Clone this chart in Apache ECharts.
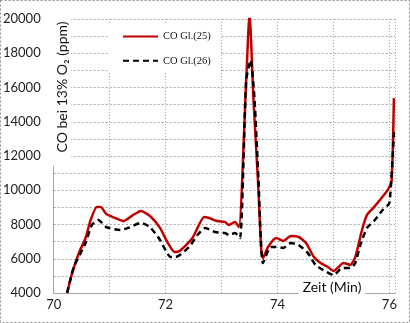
<!DOCTYPE html>
<html>
<head>
<meta charset="utf-8">
<script src="https://cdn.jsdelivr.net/npm/echarts@6/dist/echarts.min.js"></script>
<style>
  html, body { margin: 0; padding: 0; background: #fff; }
  #chart { width: 410px; height: 323px; }
</style>
</head>
<body>
<div id="chart"></div>
<script>
  // CO Gl.(25) - rote Linie
  var redTime = [70.24, 70.33, 70.45, 70.57, 70.66, 70.77, 70.84, 70.94, 71.10, 71.24, 71.42, 71.56, 71.74, 71.90,
    72.04, 72.16, 72.25, 72.48, 72.69, 72.78, 72.92, 73.06, 73.13, 73.24, 73.31, 73.44, 73.50, 73.57, 73.65,
    73.71, 73.74, 73.83, 73.98, 74.10, 74.24, 74.38, 74.51, 74.65, 74.77, 74.90, 75.00, 75.09, 75.18, 75.30,
    75.39, 75.51, 75.60, 75.71, 75.83, 75.97, 76.04, 76.08];
  var redValue = [4000, 5170, 6340, 7210, 8260, 9020, 9020, 8610, 8380, 8200, 8560, 8790, 8440, 7800,
    6920, 6390, 6450, 7210, 8440, 8380, 8200, 8150, 7970, 8150, 7850, 16400, 20300, 15300, 10600,
    6500, 6040, 6690, 7210, 7040, 7330, 7270, 6920, 6100, 5750, 5520, 5290, 5520, 5750, 5640,
    6100, 7680, 8560, 8960, 9430, 10020, 10600, 15380];

  // CO Gl.(26) - schwarz gestrichelt
  var blackTime = [70.24, 70.36, 70.57, 70.68, 70.80, 70.94, 71.19, 71.33, 71.56, 71.72, 71.90, 72.09, 72.18,
    72.42, 72.57, 72.71, 72.88, 73.06, 73.13, 73.24, 73.33, 73.44, 73.52, 73.59, 73.66, 73.74, 73.88, 73.98,
    74.10, 74.24, 74.38, 74.54, 74.68, 74.82, 75.00, 75.16, 75.30, 75.39, 75.48, 75.60, 75.74, 75.88, 76.00, 76.08];
  var blackValue = [4000, 5520, 6920, 7970, 8260, 7850, 7680, 7800, 8090, 7850, 7100, 6100, 6100,
    6690, 7390, 7800, 7560, 7500, 7390, 7500, 7210, 16400, 17600, 15270, 10600, 5750, 6690, 6690,
    6630, 6920, 6800, 6340, 5640, 5340, 5050, 5460, 5460, 5750, 6800, 7800, 8260, 8850, 9260, 13400];

  var xTicks = [70, 72, 74, 76];
  var yTicks = [4000, 6000, 8000, 10000, 12000, 14000, 16000, 18000, 20000];

  function pairs(t, v) {
    var out = [];
    for (var i = 0; i < t.length; i++) {
      out.push([t[i], v[i]]);
    }
    return out;
  }

  var font = 'Lato';
  var chart = echarts.init(document.getElementById('chart'));

  var option = {
    animation: false,
    backgroundColor: '#fff',
    grid: { left: 50, right: 15, top: 19, bottom: 30 },
    legend: {
      orient: 'vertical',
      left: 108,
      top: 25,
      padding: [6, 10, 6, 14],
      backgroundColor: '#fff',
      itemWidth: 35,
      itemHeight: 14,
      itemGap: 13,
      itemStyle: { opacity: 0 },  // nur Linie, kein Punkt
      textStyle: { fontFamily: 'Liberation Serif', fontSize: 10.5, color: '#111' },
      data: ['CO Gl.(25)', 'CO Gl.(26)']
    },
    xAxis: {
      type: 'value',
      min: 70,
      max: 76.1,
      interval: 1,
      axisLine: { lineStyle: { color: '#a6a6a6', width: 1 } },
      axisTick: { show: false },
      axisLabel: {
        margin: 5,
        color: '#222',
        fontFamily: font,
        fontSize: 13,
        showMaxLabel: false,
        formatter: function (v) {
          return xTicks.indexOf(v) >= 0 ? String(v) : '';
        }
      },
      splitLine: { show: true, lineStyle: { color: '#a6a6a6', type: [1, 2] } }
    },
    yAxis: {
      type: 'value',
      min: 4000,
      max: 20000,
      interval: 1000,
      axisLine: { show: true, lineStyle: { color: '#a6a6a6', width: 1 } },
      axisTick: { show: false },
      axisLabel: {
        margin: 13,
        color: '#222',
        fontFamily: font,
        fontSize: 13,
        formatter: function (v) {
          return yTicks.indexOf(v) >= 0 ? String(v) : '';
        }
      },
      splitLine: { show: true, lineStyle: { color: '#a6a6a6', type: [2, 2] } }
    },
    graphic: [
      {
        type: 'rect',
        z: 50,
        shape: { x: 43, y: 16, width: 28, height: 150 },
        style: { fill: '#fff' }
      },
      {
        type: 'text',
        z: 51,
        x: 62,
        y: 87,
        rotation: Math.PI / 2,
        style: {
          text: 'CO bei 13% O₂ (ppm)',
          fontFamily: font,
          fontSize: 14,
          fill: '#111',
          align: 'center',
          verticalAlign: 'middle'
        }
      },
      {
        type: 'text',
        z: 51,
        x: 332,
        y: 287,
        style: {
          text: 'Zeit (Min)',
          fontFamily: font,
          fontSize: 14,
          fill: '#111',
          align: 'center',
          verticalAlign: 'middle',
          backgroundColor: '#fff',
          padding: [2, 4]
        }
      },
      {
        type: 'rect',
        z: 60,
        shape: { x: 0.5, y: 0.5, width: 409, height: 322 },
        style: { fill: 'none', stroke: '#8c8c8c', lineWidth: 1, lineDash: [2, 2] }
      }
    ],
    series: [
      {
        name: 'CO Gl.(26)',
        type: 'line',
        smooth: 0.2,
        symbol: 'none',
        z: 3,
        lineStyle: { color: '#000', width: 2.5, type: [6, 4] },
        itemStyle: { color: '#000' },
        data: pairs(blackTime, blackValue)
      },
      {
        name: 'CO Gl.(25)',
        type: 'line',
        smooth: 0.2,
        symbol: 'none',
        z: 2,
        lineStyle: { color: '#c00000', width: 2.5 },
        itemStyle: { color: '#c00000' },
        data: pairs(redTime, redValue)
      }
    ]
  };

  chart.setOption(option);
</script>
</body>
</html>
